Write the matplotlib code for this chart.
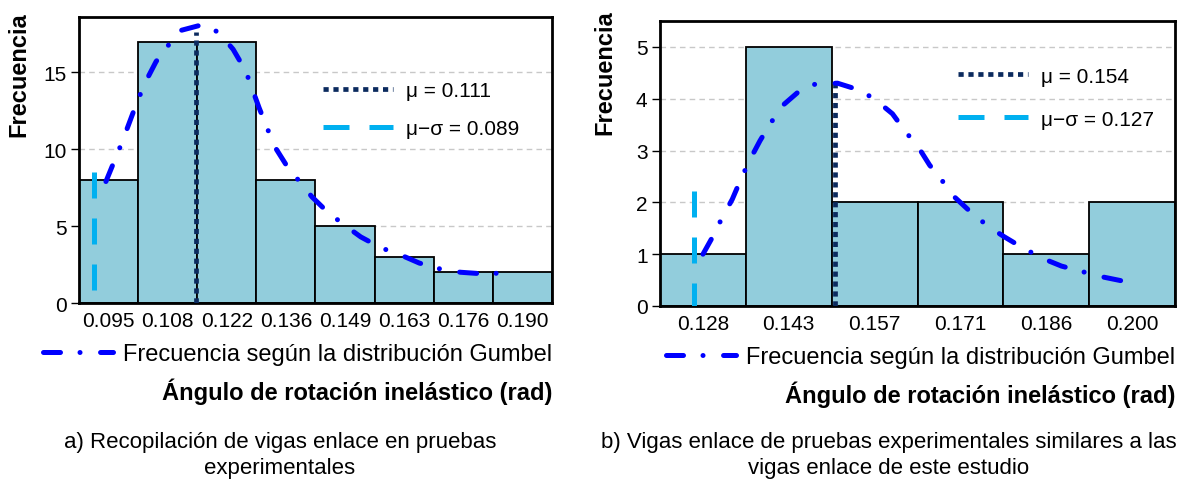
import matplotlib
matplotlib.use('Agg')
import matplotlib.pyplot as plt
from matplotlib import font_manager
from matplotlib.lines import Line2D

plt.rcParams['font.family'] = ['Liberation Sans', 'DejaVu Sans']

# panel a) histogram of inelastic rotation angle
a_labels = ['0.095', '0.108', '0.122', '0.136', '0.149', '0.163', '0.176', '0.190']
a_freq = [8, 17, 17, 8, 5, 3, 2, 2]
a_mu = 0.111
a_mu_sd = 0.089
a_mu_top = 17.6
a_mu_sd_top = 8.5
a_gumbel_x = [0.0915, 0.0949, 0.0980, 0.0999, 0.1023, 0.1073, 0.1123, 0.1158, 0.1189,
              0.1216, 0.1245, 0.1278, 0.1303, 0.1332, 0.1359, 0.1393, 0.1432, 0.1464,
              0.1507, 0.1552, 0.1590, 0.1637, 0.1679, 0.1726, 0.1773]
a_gumbel_y = [7.9, 10.4, 12.9, 14.3, 15.7, 17.7, 18.1, 17.6, 16.5,
              15.1, 12.7, 10.2, 9.0, 7.9, 6.9, 5.9, 5.0, 4.3,
              3.6, 3.1, 2.6, 2.2, 2.0, 1.9, 1.95]

# panel b) link beams similar to this study
b_labels = ['0.128', '0.143', '0.157', '0.171', '0.186', '0.200']
b_freq = [1, 5, 2, 2, 1, 2]
b_mu = 0.154
b_mu_sd = 0.127
b_mu_top = 4.3
b_mu_sd_top = 2.22
b_gumbel_x = [0.1287, 0.1303, 0.1323, 0.1343, 0.1357, 0.1375, 0.1396, 0.1414, 0.1437,
              0.1469, 0.1501, 0.1544, 0.1585, 0.1614, 0.1649, 0.1675, 0.1697, 0.1720,
              0.1747, 0.1769, 0.1800, 0.1833, 0.1862, 0.1900, 0.1938, 0.1972, 0.2013,
              0.2051, 0.2090]
b_gumbel_y = [1.00, 1.29, 1.69, 2.06, 2.39, 2.79, 3.19, 3.49, 3.85,
              4.13, 4.28, 4.30, 4.17, 4.00, 3.71, 3.35, 3.09, 2.72,
              2.38, 2.09, 1.80, 1.53, 1.34, 1.11, 0.91, 0.77, 0.66,
              0.56, 0.48]

BAR = '#92CDDC'
NAVY = '#0B2A5E'
CYAN = '#00B0F0'
GUMBEL_STYLE = (0, (3.4, 3.9, 0.01, 4.1))
GUMBEL_LW = 3.6


def panel(rect, labels, freq, ylim, yticks, x2lim, mu, mu_sd, mu_top, mu_sd_top,
          gx, gy, leg_xy, leg_gap, ylab_xy):
    ax = fig.add_axes(rect)
    pos = list(range(len(labels)))
    ax.bar(pos, freq, width=1.0, color=BAR, edgecolor='black', linewidth=1.3, zorder=2)
    ax.set_xlim(-0.5, len(labels) - 0.5)
    ax.set_ylim(0, ylim)
    ax.set_xticks(pos)
    ax.set_xticklabels(labels)
    ax.set_yticks(yticks)
    ax.tick_params(axis='x', direction='in', length=4, width=1, labelsize=15, pad=6)
    ax.tick_params(axis='y', direction='out', length=6, width=1, labelsize=15, pad=3)
    ax.set_axisbelow(True)
    ax.yaxis.grid(True, color='#C8C8C8', linestyle=(0, (4, 3)), linewidth=1)
    for s in ax.spines.values():
        s.set_linewidth(2)

    # lines share the y scale but have their own x range
    ax2 = ax.twiny()
    ax2.set_xlim(*x2lim)
    ax2.set_xticks([])
    for s in ax2.spines.values():
        s.set_visible(False)
    ax2.plot([mu, mu], [0, mu_top], color=NAVY, linewidth=3.4,
             linestyle=(0, (1.1, 1.0)), label='\u03bc = %.3f' % mu, zorder=4)
    ax2.plot([mu_sd, mu_sd], [mu_sd_top, 0], color=CYAN, linewidth=3.6,
             linestyle=(0, (5.2, 4.0)), label='\u03bc\u2212\u03c3 = %.3f' % mu_sd, zorder=4)
    ax2.plot(gx, gy, color='#0000FF', linewidth=GUMBEL_LW, linestyle=GUMBEL_STYLE,
             dash_capstyle='round', zorder=5)
    ax2.legend(loc='upper left', bbox_to_anchor=leg_xy, frameon=False, fontsize=15,
               handlelength=3.37, handletextpad=0.6, labelspacing=leg_gap,
               borderpad=0, borderaxespad=0)

    ax.legend(handles=[Line2D([], [], color='#0000FF', linewidth=GUMBEL_LW,
                              linestyle=GUMBEL_STYLE, dash_capstyle='round')],
              labels=['Frecuencia según la distribución Gumbel'],
              loc='center right', bbox_to_anchor=(1.0, -0.18), frameon=False, fontsize=17,
              handlelength=3.0, handletextpad=0.4, borderpad=0, borderaxespad=0)
    ax.set_xlabel('Ángulo de rotación inelástico (rad)', fontsize=17, fontweight='bold',
                  loc='right', labelpad=34)
    ax.set_ylabel('Frecuencia', fontsize=17, fontweight='bold', loc='top')
    ax.yaxis.set_label_coords(*ylab_xy)
    return ax


fig = plt.figure(figsize=(11.88, 4.89), dpi=100)

panel([0.0665, 0.3783, 0.3981, 0.5849], a_labels, a_freq, 18.6, [0, 5, 10, 15],
      (0.0857, 0.1876), a_mu, a_mu_sd, a_mu_top, a_mu_sd_top,
      a_gumbel_x, a_gumbel_y, (0.516, 0.775), 0.9, (-0.102, 1.021))
panel([0.5556, 0.3722, 0.4335, 0.5828], b_labels, b_freq, 5.5, [0, 1, 2, 3, 4, 5],
      (0.1205, 0.2189), b_mu, b_mu_sd, b_mu_top, b_mu_sd_top,
      b_gumbel_x, b_gumbel_y, (0.579, 0.84), 1.15, (-0.085, 1.042))

installed = {f.name for f in font_manager.fontManager.ttflist}
cap_font = 'Liberation Sans Narrow' if 'Liberation Sans Narrow' in installed else 'Liberation Sans'
fig.text(0.2357, 0.0685, 'a) Recopilación de vigas enlace en pruebas\nexperimentales',
         ha='center', va='center', fontsize=16, family=cap_font, linespacing=1.35)
fig.text(0.748, 0.0685, 'b) Vigas enlace de pruebas experimentales similares a las\n'
         'vigas enlace de este estudio',
         ha='center', va='center', fontsize=16, family=cap_font, linespacing=1.35)

fig.savefig('out.png', dpi=100)
